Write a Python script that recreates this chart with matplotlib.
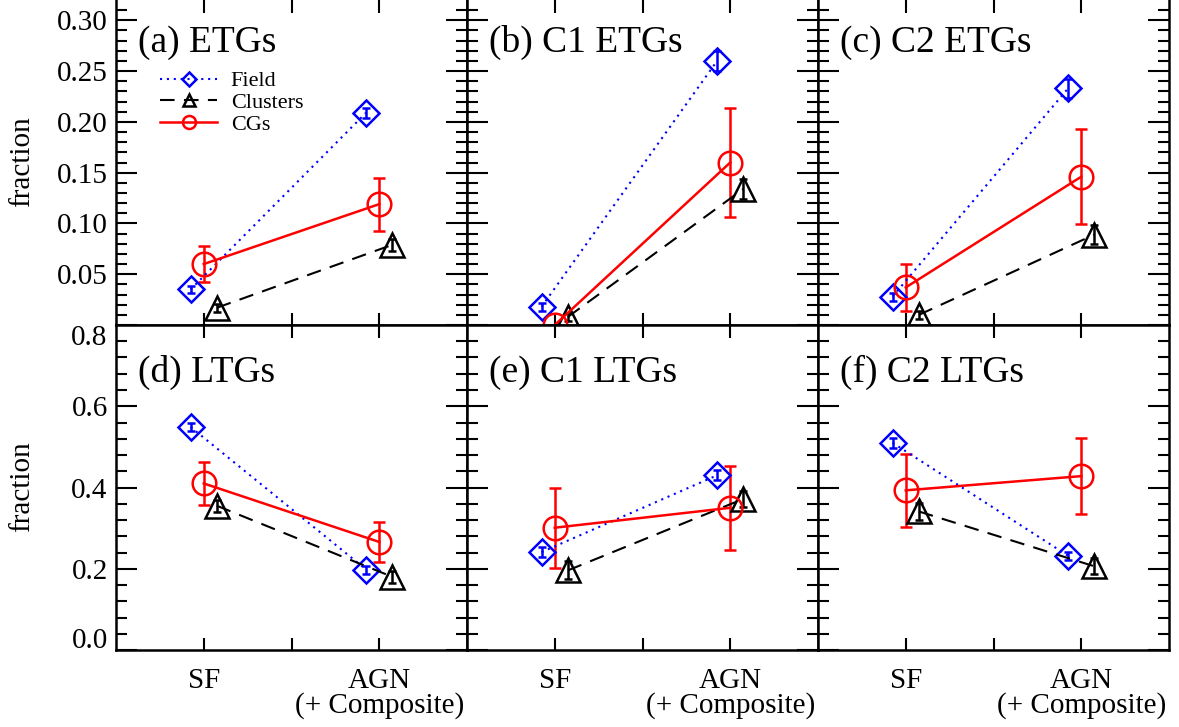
import matplotlib
matplotlib.use("Agg")
import matplotlib.pyplot as plt
import matplotlib.transforms as mtransforms
from matplotlib.lines import Line2D
import numpy as np

plt.rcParams['font.family'] = ['Liberation Serif', 'DejaVu Serif']

categories = ["SF", "AGN\n(+ Composite)"]
titles_etg = ["(a) ETGs", "(b) C1 ETGs", "(c) C2 ETGs"]
titles_ltg = ["(d) LTGs", "(e) C1 LTGs", "(f) C2 LTGs"]

# early types (top row): [SF, AGN] per panel
field_etg = [[0.035, 0.209], [0.018, 0.260], [0.028, 0.233]]
field_etg_err = [[0.003, 0.005], [0.004, 0.010], [0.004, 0.009]]
clus_etg = [[0.017, 0.079], [0.008, 0.134], [0.010, 0.089]]
clus_etg_err = [[0.004, 0.006], [0.004, 0.010], [0.004, 0.009]]
cg_etg = [[0.060, 0.119], [0.000, 0.160], [0.037, 0.146]]
cg_etg_err = [[0.018, 0.026], [0.000, 0.054], [0.023, 0.047]]

# late types (bottom row)
field_ltg = [[0.549, 0.198], [0.241, 0.430], [0.510, 0.232]]
field_ltg_err = [[0.010, 0.010], [0.012, 0.012], [0.012, 0.010]]
clus_ltg = [[0.355, 0.180], [0.196, 0.372], [0.341, 0.206]]
clus_ltg_err = [[0.015, 0.015], [0.022, 0.020], [0.020, 0.020]]
cg_ltg = [[0.410, 0.266], [0.301, 0.350], [0.393, 0.428]]
cg_ltg_err = [[0.054, 0.050], [0.098, 0.104], [0.089, 0.093]]

W, H = 1179, 727
fig = plt.figure(figsize=(W / 100, H / 100), dpi=100)

xs = np.array([1.0, 3.0])
lefts = [116, 467, 818]
pw, ph = 351, 325

field_style = dict(color='blue', ls=(0, (1, 2.3)), lw=1.5, marker='D', ms=13,
                   mfc='none', mec='blue', mew=1.8)
clus_style = dict(color='black', ls=(0, (7, 4.5)), lw=1.5, marker='^', ms=17,
                  mfc='none', mec='black', mew=1.8)
cg_style = dict(color='red', ls='-', lw=1.8, marker='o', ms=17,
                mfc='none', mec='red', mew=1.8)


def draw_panel(ax, field, ferr, clus, cerr, cg, gerr, title, top):
    ax.errorbar(xs - 0.15, field, yerr=ferr, capsize=3, elinewidth=1.8, capthick=1.8,
                **field_style)
    ax.errorbar(xs + 0.15, clus, yerr=cerr, capsize=3, elinewidth=1.8, capthick=1.8,
                **clus_style)
    ax.errorbar(xs, cg, yerr=gerr, capsize=4.5, elinewidth=1.8, capthick=1.8,
                **cg_style)
    ax.set_xlim(0, 4)
    ax.set_xticks([1, 2, 3])
    ax.tick_params(axis='x', direction='in', top=True, length=9, width=1.5,
                   labelsize=21, pad=13)
    ax.tick_params(axis='y', which='major', direction='in', left=True, right=True,
                   length=15, width=1.5, labelsize=21, pad=6)
    ax.tick_params(axis='y', which='minor', direction='in', left=True, right=True,
                   length=8, width=1.5)
    for s in ax.spines.values():
        s.set_linewidth(1.8)
    ax.text(0.063, 0.84 if top else 0.825, title, transform=ax.transAxes,
            fontsize=27, va='baseline', ha='left')


axes = []
for row in range(2):
    for col in range(3):
        ax = fig.add_axes([lefts[col] / W, (H - ph * (row + 1)) / H, pw / W, ph / H])
        if row == 0:
            draw_panel(ax, field_etg[col], field_etg_err[col], clus_etg[col], clus_etg_err[col],
                       cg_etg[col], cg_etg_err[col], titles_etg[col], True)
            ax.set_ylim(0, 0.32)
            ax.set_yticks(np.arange(0.05, 0.301, 0.05))
            ax.set_yticks(np.arange(0.01, 0.32, 0.01), minor=True)
            ax.set_yticklabels(["%.2f" % v for v in np.arange(0.05, 0.301, 0.05)])
            ax.set_xticklabels([])
            ax.spines['top'].set_visible(False)
        else:
            draw_panel(ax, field_ltg[col], field_ltg_err[col], clus_ltg[col], clus_ltg_err[col],
                       cg_ltg[col], cg_ltg_err[col], titles_ltg[col], False)
            ax.set_ylim(0, 0.8)
            ax.set_yticks(np.arange(0, 0.81, 0.2))
            ax.set_yticks(np.arange(0.04, 0.8, 0.04), minor=True)
            ax.set_yticklabels(["%.1f" % v for v in np.arange(0, 0.81, 0.2)])
            ax.set_xticklabels([categories[0], "", categories[1]], linespacing=0.92)
            ticks = ax.yaxis.get_major_ticks()
            # end labels pulled inward, as in the original
            lab0 = ticks[0].label1
            lab0.set_transform(lab0.get_transform() +
                               mtransforms.ScaledTranslation(0, 9 / 72, fig.dpi_scale_trans))
            lab8 = ticks[-1].label1
            lab8.set_transform(lab8.get_transform() +
                               mtransforms.ScaledTranslation(0, -7 / 72, fig.dpi_scale_trans))
        if col > 0:
            ax.set_yticklabels([])
        axes.append(ax)

handles = [Line2D([], [], **field_style), Line2D([], [], **clus_style),
           Line2D([], [], **cg_style)]
axes[0].legend(handles, ["Field", "Clusters", "CGs"], loc='upper left',
               bbox_to_anchor=(0.08, 0.83), frameon=False, fontsize=16,
               markerscale=0.55, handlelength=2.6, handletextpad=0.6, labelspacing=0.05,
               borderpad=0.2)

fig.text(22 / W, 1 - 162 / H, "fraction", rotation=90, ha='center', va='center', fontsize=21)
fig.text(22 / W, 1 - 487 / H, "fraction", rotation=90, ha='center', va='center', fontsize=21)

fig.savefig("out.png", dpi=100)
